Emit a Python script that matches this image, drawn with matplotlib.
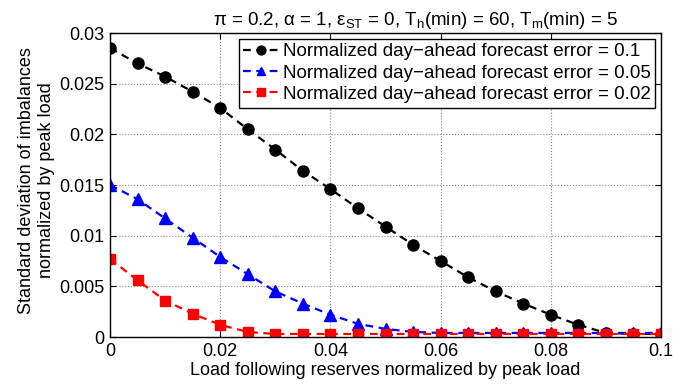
import numpy as np
import matplotlib
matplotlib.use("Agg")
import matplotlib.pyplot as plt

plt.rcParams['font.family'] = ['Liberation Sans', 'DejaVu Sans']
plt.rcParams['mathtext.fontset'] = 'custom'
plt.rcParams['mathtext.rm'] = 'Liberation Sans'
plt.rcParams['mathtext.it'] = 'Liberation Sans'
plt.rcParams['mathtext.fallback'] = 'cm'

# reserves (normalized by peak load)
reserves = [0.0, 0.005, 0.01, 0.015, 0.02, 0.025, 0.03, 0.035, 0.04, 0.045, 0.05,
            0.055, 0.06, 0.065, 0.07, 0.075, 0.08, 0.085, 0.09, 0.095, 0.1]

err_01 = [0.0285, 0.0270, 0.0257, 0.0242, 0.0226, 0.0205, 0.0185, 0.0164, 0.0146, 0.0127, 0.0109,
          0.0091, 0.0075, 0.0059, 0.0045, 0.0033, 0.0022, 0.0012, 0.0004, 0.0003, 0.0003]
err_005 = [0.0150, 0.0136, 0.0117, 0.0098, 0.0079, 0.0062, 0.0045, 0.0033, 0.0022, 0.0013, 0.0008,
           0.0005, 0.0004, 0.0004, 0.0004, 0.0004, 0.0004, 0.0004, 0.0004, 0.0004, 0.0004]
err_002 = [0.0077, 0.0056, 0.0036, 0.0023, 0.0012, 0.0005, 0.0003, 0.0003, 0.0003, 0.0003, 0.0003,
           0.0003, 0.0003, 0.0003, 0.0003, 0.0003, 0.0003, 0.0003, 0.0003, 0.0003, 0.0003]

labels = ["Normalized day\u2212ahead forecast error = 0.1",
          "Normalized day\u2212ahead forecast error = 0.05",
          "Normalized day\u2212ahead forecast error = 0.02"]

fs = 13

fig = plt.figure(figsize=(6.99, 3.9), dpi=100)
ax = fig.add_axes([110 / 699, 1 - 337 / 390, 551 / 699, 304 / 390])

dash = (3.5, 2.5)
ax.plot(reserves, err_01, color='black', ls='--', dashes=dash, lw=1.6, marker='o', ms=8, label=labels[0])
ax.plot(reserves, err_005, color='blue', ls='--', dashes=dash, lw=1.6, marker='^', ms=8, label=labels[1])
ax.plot(reserves, err_002, color='red', ls='--', dashes=dash, lw=1.6, marker='s', ms=7, label=labels[2])

ax.set_xlim(0, 0.1)
ax.set_ylim(0, 0.03)
ax.set_xticks([0, 0.02, 0.04, 0.06, 0.08, 0.1])
ax.set_xticklabels(["0", "0.02", "0.04", "0.06", "0.08", "0.1"])
ax.set_yticks([0, 0.005, 0.01, 0.015, 0.02, 0.025, 0.03])
ax.set_yticklabels(["0", "0.005", "0.01", "0.015", "0.02", "0.025", "0.03"])
ax.tick_params(direction='in', labelsize=fs, top=True, right=True, length=4, pad=4)
ax.grid(True, ls=':', color='#888888', lw=0.8)
for s in ax.spines.values():
    s.set_linewidth(1.0)

ax.set_xlabel("Load following reserves normalized by peak load", fontsize=fs, labelpad=2)
ax.set_ylabel("Standard deviation of imbalances\nnormalized by peak load", fontsize=fs,
              linespacing=1.2)
ax.yaxis.set_label_coords(-0.1, 0.515)
ax.set_title(r"$\pi$ = 0.2, $\alpha$ = 1, $\epsilon_{ST}$ = 0, T$_{h}$(min) = 60, T$_{m}$(min) = 5",
             fontsize=13.5, pad=6, x=0.555)

leg = ax.legend(loc='upper right', fontsize=13.5, fancybox=False, edgecolor='black',
                framealpha=1, borderaxespad=0.3, handlelength=1.9, labelspacing=0.22,
                borderpad=0.25, handletextpad=0.2, markerscale=0.8)
leg.get_frame().set_linewidth(1.0)

fig.savefig("out.png", dpi=100)
